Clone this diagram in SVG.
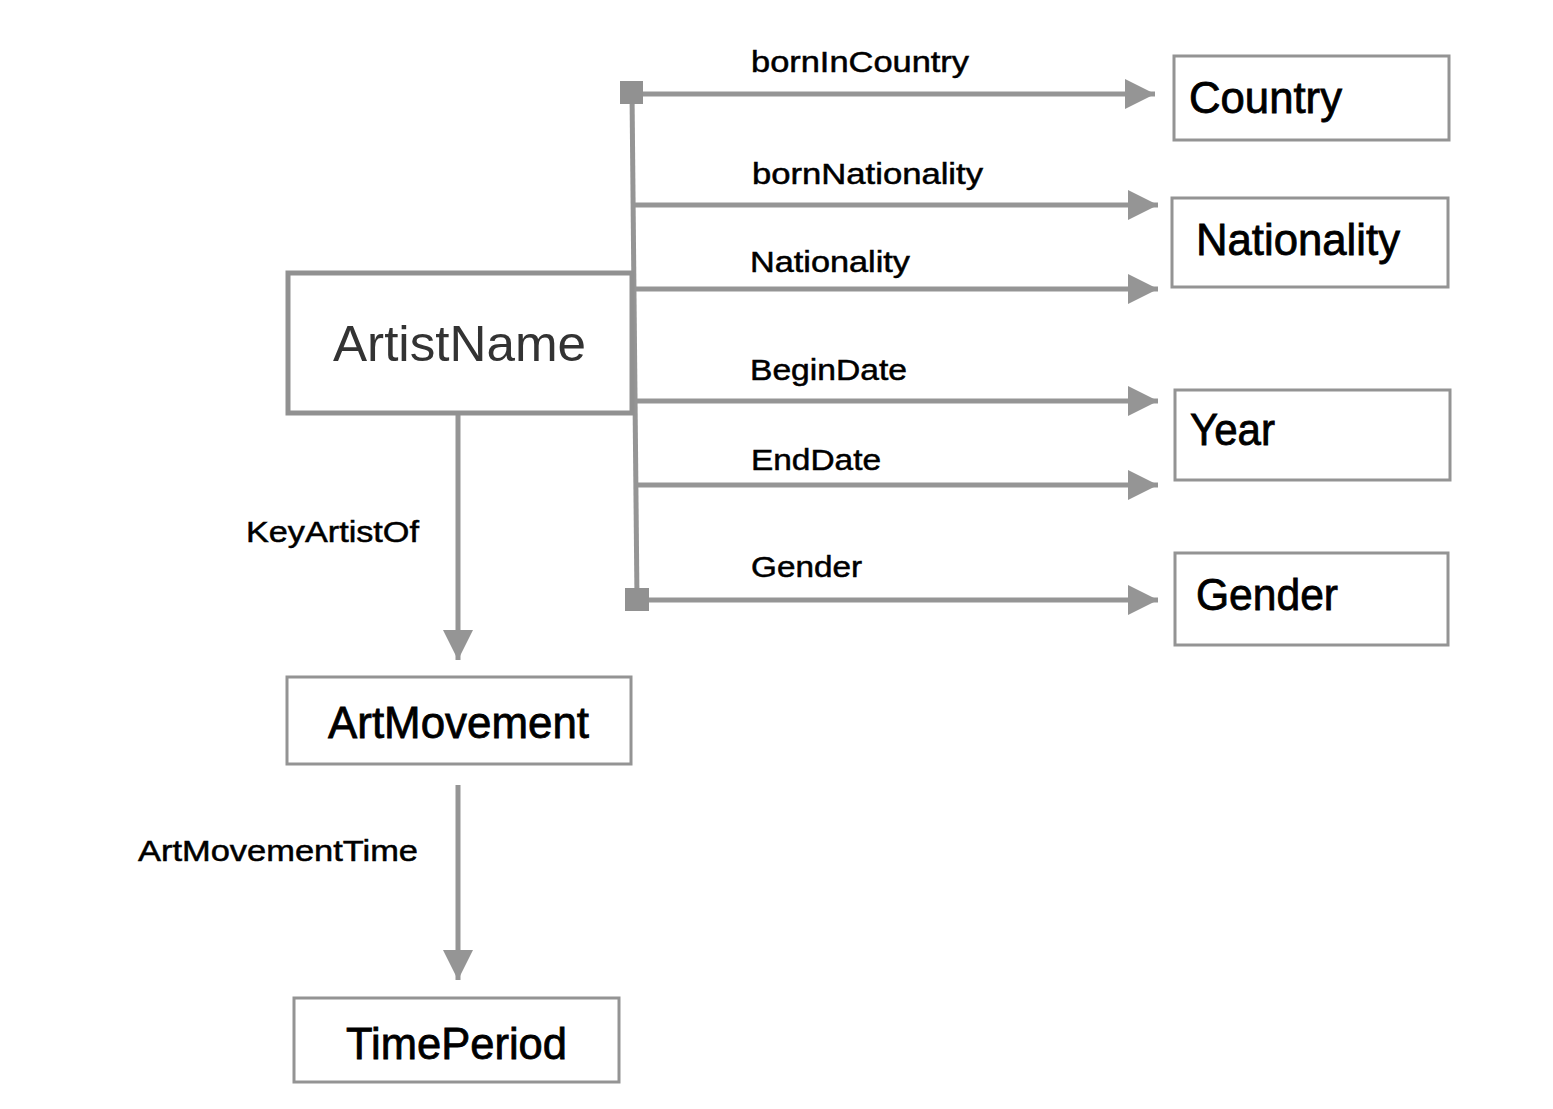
<svg xmlns="http://www.w3.org/2000/svg" width="1553" height="1109" viewBox="0 0 1553 1109">
<style>
.box{fill:#fff;stroke:#949494;stroke-width:3}
.main{fill:#fff;stroke:#919191;stroke-width:5}
.conn{stroke:#959595;stroke-width:5;fill:none}
.sq{fill:#919191}
.lbl{font-family:"Liberation Sans",Arial,sans-serif;font-size:29px;fill:#000;stroke:#000;stroke-width:0.5}
.nt{font-family:"Liberation Sans",Arial,sans-serif;font-size:44px;fill:#000;stroke:#000;stroke-width:0.8}
</style>
<defs>
<marker id="ah" markerUnits="userSpaceOnUse" markerWidth="30" markerHeight="30" refX="30" refY="15" orient="auto" viewBox="0 0 30 30">
<path d="M0,0 L30,15 L0,30 Z" fill="#959595"/>
</marker>
</defs>
<g id="connectors">
<line class="conn" x1="632" y1="92" x2="637" y2="600"/>
<rect class="sq" x="620" y="81" width="23" height="23"/>
<rect class="sq" x="625" y="588" width="24" height="23"/>
<line class="conn" x1="643" y1="94" x2="1155" y2="94" marker-end="url(#ah)"/>
<line class="conn" x1="634" y1="205" x2="1158" y2="205" marker-end="url(#ah)"/>
<line class="conn" x1="634" y1="289" x2="1158" y2="289" marker-end="url(#ah)"/>
<line class="conn" x1="635" y1="401" x2="1158" y2="401" marker-end="url(#ah)"/>
<line class="conn" x1="636" y1="485" x2="1158" y2="485" marker-end="url(#ah)"/>
<line class="conn" x1="649" y1="600" x2="1158" y2="600" marker-end="url(#ah)"/>
<line class="conn" x1="458" y1="413" x2="458" y2="660" marker-end="url(#ah)"/>
<line class="conn" x1="458" y1="785" x2="458" y2="980" marker-end="url(#ah)"/>
<text class="lbl" x="751" y="72" textLength="218" lengthAdjust="spacingAndGlyphs">bornInCountry</text>
<text class="lbl" x="752" y="184" textLength="231" lengthAdjust="spacingAndGlyphs">bornNationality</text>
<text class="lbl" x="750" y="272" textLength="160" lengthAdjust="spacingAndGlyphs">Nationality</text>
<text class="lbl" x="750" y="380" textLength="157" lengthAdjust="spacingAndGlyphs">BeginDate</text>
<text class="lbl" x="751" y="470" textLength="130" lengthAdjust="spacingAndGlyphs">EndDate</text>
<text class="lbl" x="751" y="577" textLength="111" lengthAdjust="spacingAndGlyphs">Gender</text>
<text class="lbl" x="246" y="542" textLength="173" lengthAdjust="spacingAndGlyphs">KeyArtistOf</text>
<text class="lbl" x="138" y="861" textLength="280" lengthAdjust="spacingAndGlyphs">ArtMovementTime</text>
</g>
<g id="ArtistName">
<rect class="main" x="288" y="273" width="344" height="140"/>
<text x="333" y="361" font-family="'Liberation Sans',Arial,sans-serif" font-size="50" fill="#333" textLength="253" lengthAdjust="spacingAndGlyphs">ArtistName</text>
</g>
<g id="Country">
<rect class="box" x="1174" y="56" width="275" height="84"/>
<text class="nt" x="1189" y="113" textLength="153" lengthAdjust="spacingAndGlyphs">Country</text>
</g>
<g id="Nationality">
<rect class="box" x="1172" y="198" width="276" height="89"/>
<text class="nt" x="1196" y="255" textLength="204" lengthAdjust="spacingAndGlyphs">Nationality</text>
</g>
<g id="Year">
<rect class="box" x="1175" y="390" width="275" height="90"/>
<text class="nt" x="1190" y="445" textLength="85" lengthAdjust="spacingAndGlyphs">Year</text>
</g>
<g id="Gender">
<rect class="box" x="1175" y="553" width="273" height="92"/>
<text class="nt" x="1196" y="610" textLength="142" lengthAdjust="spacingAndGlyphs">Gender</text>
</g>
<g id="ArtMovement">
<rect class="box" x="287" y="677" width="344" height="87"/>
<text class="nt" x="328" y="738" textLength="261" lengthAdjust="spacingAndGlyphs">ArtMovement</text>
</g>
<g id="TimePeriod">
<rect class="box" x="294" y="998" width="325" height="84"/>
<text class="nt" x="346" y="1059" textLength="221" lengthAdjust="spacingAndGlyphs">TimePeriod</text>
</g>
</svg>
